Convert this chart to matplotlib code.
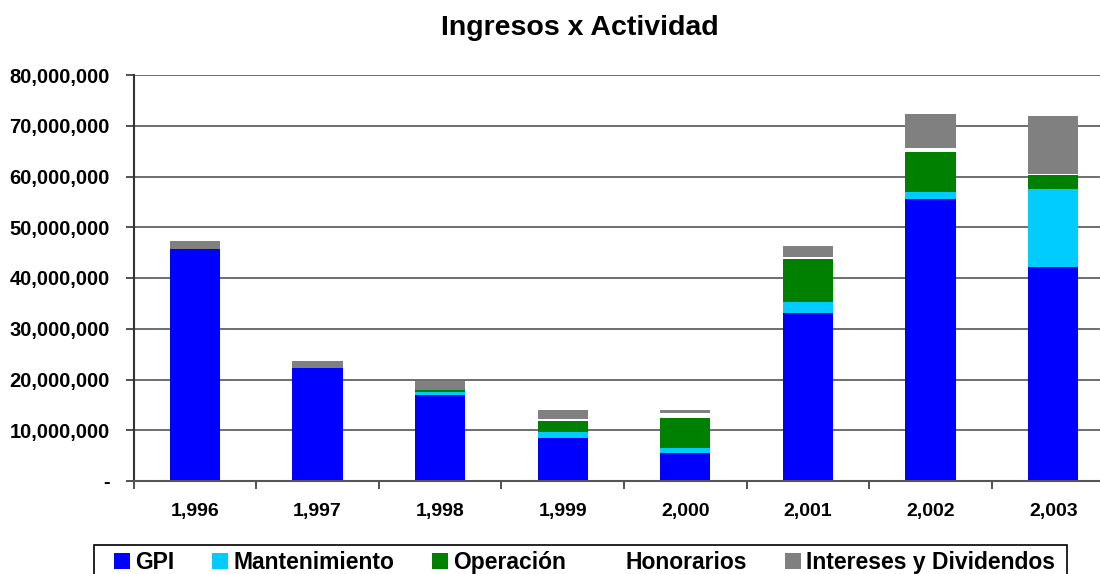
import matplotlib
matplotlib.use("Agg")
import matplotlib.pyplot as plt
import numpy as np
from matplotlib.ticker import FuncFormatter, MultipleLocator
from matplotlib.patches import Rectangle

years = ["1,996", "1,997", "1,998", "1,999", "2,000", "2,001", "2,002", "2,003"]
gpi = [45.7, 22.3, 16.9, 8.5, 5.5, 33.1, 55.6, 42.2]
mantenimiento = [0.0, 0.0, 0.6, 1.2, 1.0, 2.2, 1.3, 15.3]
operacion = [0.0, 0.0, 0.4, 2.1, 5.9, 8.4, 7.9, 2.8]
honorarios = [0.0, 0.0, 0.0, 0.4, 1.0, 0.4, 0.8, 0.2]
intereses = [1.6, 1.3, 1.8, 1.8, 0.6, 2.2, 6.7, 11.4]

series = [
    ("GPI", gpi, "#0000FF"),
    ("Mantenimiento", mantenimiento, "#00CCFF"),
    ("Operación", operacion, "#008000"),
    ("Honorarios", honorarios, "#FFFFFF"),
    ("Intereses y Dividendos", intereses, "#808080"),
]

plt.rcParams['font.family'] = ['Liberation Sans', 'DejaVu Sans']
plt.rcParams['font.weight'] = 'bold'

W, H = 1100, 574
fig = plt.figure(figsize=(11, 5.74), dpi=100)
ax = fig.add_axes([133.5 / W, 1 - 481 / H, 981 / W, (481 - 75) / H])

x = np.arange(len(years))
bottom = np.zeros(len(years))
handles = []
for name, vals, col in series:
    v = np.array(vals) * 1e6
    b = ax.bar(x, v, width=0.41, bottom=bottom, color=col, label=name, linewidth=0)
    handles.append(b)
    bottom += v

ax.set_xlim(-0.5, len(years) - 0.5)
ax.set_ylim(0, 80e6)
ax.yaxis.set_major_locator(MultipleLocator(10e6))
ax.yaxis.set_major_formatter(FuncFormatter(lambda v, p: "-" if v == 0 else f"{v:,.0f}"))
ax.set_xticks(x)
ax.set_xticklabels(years)
ax.set_xticks(np.arange(-0.5, len(years), 1.0), minor=True)
ax.tick_params(axis='x', which='major', length=0, pad=16, labelsize=14)
ax.tick_params(axis='x', which='minor', length=6, width=1.2, color='#333333', direction='out')
ax.tick_params(axis='y', length=6, width=1.2, color='#333333', labelsize=14.5, pad=11)
for lab in ax.get_xticklabels() + ax.get_yticklabels():
    lab.set_fontweight('bold')

ax.grid(axis='y', color='#555555', linewidth=1.2)
ax.set_axisbelow(True)
for s in ['top', 'right']:
    ax.spines[s].set_visible(False)
ax.spines['left'].set_color('#333333')
ax.spines['left'].set_linewidth(1.5)
ax.spines['bottom'].set_color('#555555')
ax.spines['bottom'].set_linewidth(1.5)

fig.text(580 / W, 1 - 28 / H, "Ingresos x Actividad", ha='center', va='center',
         fontsize=20.5, fontweight='bold')

# legend frame (bottom runs off the figure, as in the reference)
fig.patches.append(Rectangle((94 / W, -0.05), (1067 - 94) / W, 0.05 + 1 - 545 / H,
                             transform=fig.transFigure, fill=False, edgecolor='black',
                             linewidth=1.2))

leg = fig.legend(handles=handles, loc='upper left', bbox_to_anchor=(114 / W, 1 - 551 / H),
                 ncol=5, frameon=False,
                 prop={'size': 16.5, 'weight': 'bold'}, handlelength=0.7, handleheight=0.7,
                 handletextpad=0.22, columnspacing=1.66, borderpad=0, borderaxespad=0)

fig.savefig("out.png", dpi=100)
